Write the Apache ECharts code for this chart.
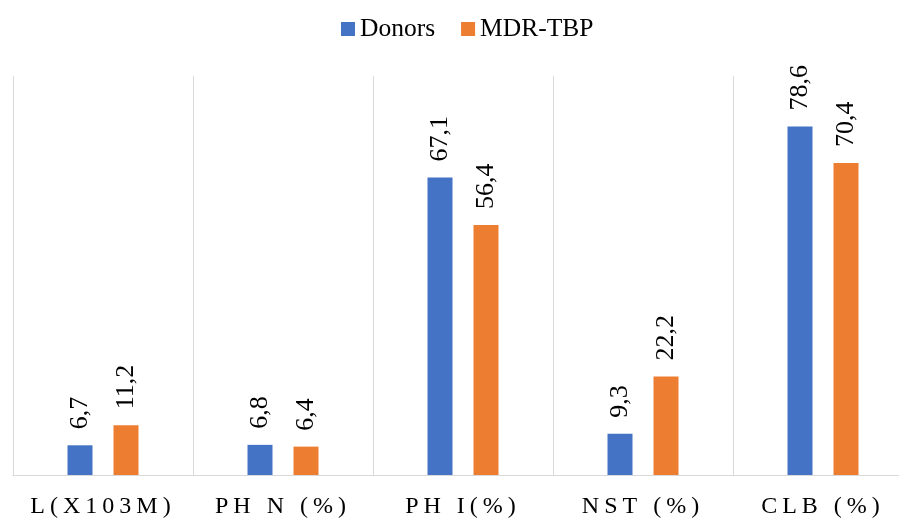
<!DOCTYPE html>
<html>
<head>
<meta charset="utf-8">
<script src="https://cdn.jsdelivr.net/npm/echarts@6/dist/echarts.min.js"></script>
<style>
  html, body { margin: 0; padding: 0; background: #fff; }
  #chart { width: 899px; height: 520px; }
</style>
</head>
<body>
<div id="chart"></div>
<script>
const categories = ['L(X103M)', 'PH N (%)', 'PH I(%)', 'NST (%)', 'CLB (%)'];
const donors = [6.7, 6.8, 67.1, 9.3, 78.6];
const mdrTbp = [11.2, 6.4, 56.4, 22.2, 70.4];

const serif = '"Liberation Serif", "Times New Roman", serif';
const axisFontSize = 24;

// Category labels under the axis are drawn with wide letter spacing.
const proto = CanvasRenderingContext2D.prototype;
const baseFillText = proto.fillText;
proto.fillText = function (text, x, y, maxWidth) {
  if ('letterSpacing' in this) {
    this.letterSpacing = this.font.indexOf(axisFontSize + 'px') >= 0 ? '5px' : '0px';
  }
  return maxWidth === undefined
    ? baseFillText.call(this, text, x, y)
    : baseFillText.call(this, text, x, y, maxWidth);
};

const commaDecimal = p => String(p.value).replace('.', ',');

const barLabel = {
  show: true,
  position: 'top',
  rotate: 90,
  align: 'left',
  verticalAlign: 'middle',
  distance: 16,
  color: '#000',
  fontFamily: serif,
  fontSize: 26,
  formatter: commaDecimal
};

const chart = echarts.init(document.getElementById('chart'), null, { renderer: 'canvas' });
chart.setOption({
  animation: false,
  backgroundColor: '#fff',
  legend: {
    left: 336,
    top: 11,
    icon: 'rect',
    itemWidth: 14,
    itemHeight: 14,
    itemGap: 26,
    textStyle: { fontFamily: serif, fontSize: 25.5, color: '#000' },
    data: ['Donors', 'MDR-TBP']
  },
  grid: { left: 13, right: -14, top: 76, bottom: 45, containLabel: false, outerBoundsMode: 'none' },
  xAxis: {
    type: 'category',
    data: categories,
    axisLine: { lineStyle: { color: '#d9d9d9', width: 1 } },
    axisTick: { show: false },
    splitLine: { show: true, lineStyle: { color: '#d9d9d9', width: 1 } },
    axisLabel: { color: '#000', fontFamily: serif, fontSize: axisFontSize, margin: 20 }
  },
  yAxis: {
    type: 'value',
    min: 0,
    max: 90,
    show: false,
    splitLine: { show: false }
  },
  series: [
    {
      name: 'Donors',
      type: 'bar',
      data: donors,
      barWidth: 25,
      barGap: '84%',
      itemStyle: { color: '#4472C4' },
      label: barLabel
    },
    {
      name: 'MDR-TBP',
      type: 'bar',
      data: mdrTbp,
      barWidth: 25,
      barGap: '84%',
      itemStyle: { color: '#ED7D31' },
      label: barLabel
    }
  ]
});
</script>
</body>
</html>
